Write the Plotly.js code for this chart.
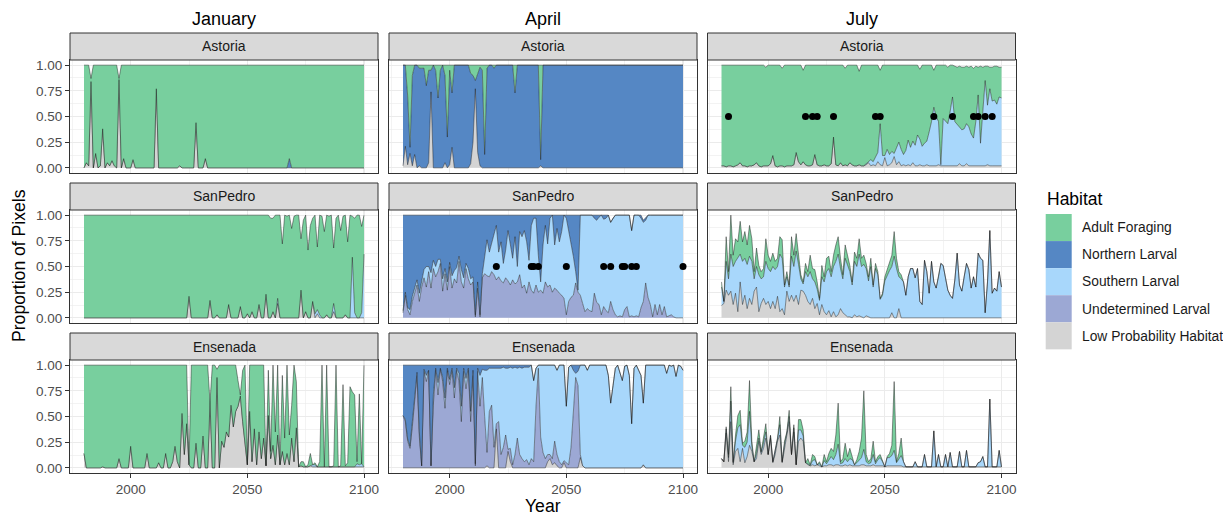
<!DOCTYPE html>
<html><head><meta charset="utf-8">
<script src="https://cdn.plot.ly/plotly-3.0.1.min.js"></script>
<style>html,body{margin:0;padding:0;background:#fff;}#chart{width:1223px;height:515px;}</style>
</head><body><div id="chart"></div>
<script>
const YEARS = [
1980,1981,1982,1983,1984,1985,1986,1987,1988,1989,
1990,1991,1992,1993,1994,1995,1996,1997,1998,1999,
2000,2001,2002,2003,2004,2005,2006,2007,2008,2009,
2010,2011,2012,2013,2014,2015,2016,2017,2018,2019,
2020,2021,2022,2023,2024,2025,2026,2027,2028,2029,
2030,2031,2032,2033,2034,2035,2036,2037,2038,2039,
2040,2041,2042,2043,2044,2045,2046,2047,2048,2049,
2050,2051,2052,2053,2054,2055,2056,2057,2058,2059,
2060,2061,2062,2063,2064,2065,2066,2067,2068,2069,
2070,2071,2072,2073,2074,2075,2076,2077,2078,2079,
2080,2081,2082,2083,2084,2085,2086,2087,2088,2089,
2090,2091,2092,2093,2094,2095,2096,2097,2098,2099,
2100];

const MONTHS = ['January','April','July'];
const SITES = ['Astoria','SanPedro','Ensenada'];
const HAB_LABELS = ['Adult Foraging','Northern Larval','Southern Larval','Undetermined Larval','Low Probability Habitat'];
const Y_TICKS = [0, 0.25, 0.5, 0.75, 1];
const Y_TICK_LABELS = ['0.00','0.25','0.50','0.75','1.00'];
const X_TICKS = [2000, 2050, 2100];
const X_TICK_LABELS = ['2000','2050','2100'];

// ---- January / Astoria
const JAN_AST_LOW = [
0,.05,.02,.84,0,.14,0,.02,.38,0,
.05,.02,.07,.02,0,.86,0,.09,0,0,
0,.08,0,0,0,0,0,0,0,0,
0,.77,0,0,0,0,0,0,0,0,
0,.02,0,0,0,0,0,0,.44,0,
0,0,.09,0,0,0,0,0,0,0,
0,0,0,0,0,0,0,0,0,0,
0,0,0,0,0,0,0,0,0,0,
0,0,0,0,0,0,0,0,0,0,
0,0,0,0,0,0,0,0,0,0,
0,0,0,0,0,0,0,0,0,0,
0,0,0,0,0,0,0,0,0,0,
0];
const JAN_AST_NORTH = [
0,0,0,0,0,0,0,0,0,0,
0,0,0,0,0,0,0,0,0,0,
0,0,0,0,0,0,0,0,0,0,
0,0,0,0,0,0,0,0,0,0,
0,0,0,0,0,0,0,0,0,0,
0,0,0,0,0,0,0,0,0,0,
0,0,0,0,0,0,0,0,0,0,
0,0,0,0,0,0,0,0,0,0,
0,0,0,0,0,0,0,0,.09,0,
0,0,0,0,0,0,0,0,0,0,
0,0,0,0,0,0,0,0,0,0,
0,0,0,0,0,0,0,0,0,0,
0];
const JAN_AST_ADULT = [
1,.95,.98,.03,1,.86,1,.98,.62,1,
.95,.98,.93,.98,1,.01,1,.91,1,1,
1,.92,1,1,1,1,1,1,1,1,
1,.23,1,1,1,1,1,1,1,1,
1,.98,1,1,1,1,1,1,.56,1,
1,1,.91,1,1,1,1,1,1,1,
1,1,1,1,1,1,1,1,1,1,
1,1,1,1,1,1,1,1,1,1,
1,1,1,1,1,1,1,1,.91,1,
1,1,1,1,1,1,1,1,1,1,
1,1,1,1,1,1,1,1,1,1,
1,1,1,1,1,1,1,1,1,1,
1];

// ---- April / Astoria
const APR_AST_LOW = [
.02,.21,.03,.14,.02,.13,0,.02,0,0,
0,.05,.74,0,0,0,0,0,.05,0,
.03,.20,0,0,0,0,0,0,0,.04,
.25,.77,.15,.02,0,0,0,0,0,0,
0,0,0,0,0,0,0,0,0,0,
0,0,0,0,0,0,0,0,0,.02,
0,0,0,0,0,0,0,0,0,0,
0,0,0,0,0,0,0,0,0,0,
0,0,0,0,0,0,0,0,0,0,
0,0,0,0,0,0,0,0,0,0,
0,0,0,0,0,0,0,0,0,0,
0,0,0,0,0,0,0,0,0,0,
0];
const APR_AST_NORTH = [
.98,.79,.67,.06,.88,.87,1,.95,.97,.97,
.80,.90,.21,1,.95,.68,.95,1,.85,.30,
.92,.53,1,1,1,1,1,1,1,.88,
.65,.08,.77,.96,.95,.13,.97,1,1,.97,
1,1,1,1,1,1,1,1,.73,1,
1,1,1,1,1,1,1,1,1,.06,
1,1,1,1,1,1,1,1,1,1,
1,1,1,1,1,1,1,1,1,1,
1,1,1,1,1,1,1,1,1,1,
1,1,1,1,1,1,1,1,1,1,
1,1,1,1,1,1,1,1,1,1,
1,1,1,1,1,1,1,1,1,1,
1];
const APR_AST_ADULT = [
0,0,.30,.80,.10,0,0,.03,.03,.03,
.20,.05,.05,0,.05,.32,.05,0,.10,.70,
.05,.27,0,0,0,0,0,0,0,.08,
.10,.15,.08,.02,.05,.87,.03,0,0,.03,
0,0,0,0,0,0,0,0,.27,0,
0,0,0,0,0,0,0,0,0,.92,
0,0,0,0,0,0,0,0,0,0,
0,0,0,0,0,0,0,0,0,0,
0,0,0,0,0,0,0,0,0,0,
0,0,0,0,0,0,0,0,0,0,
0,0,0,0,0,0,0,0,0,0,
0,0,0,0,0,0,0,0,0,0,
0];

// ---- July / Astoria
const JUL_AST_LOW = [
.02,.02,.01,.02,.02,.01,.02,.03,.05,.02,
.02,.01,.02,.02,.03,.05,.02,.01,.02,.02,
.02,.04,.12,.02,.01,.02,.02,.01,.02,.02,
.02,.03,.15,.06,.03,.06,.03,.02,.02,.03,
.13,.03,.02,.02,.03,.02,.02,.04,.30,.03,
.02,.05,.02,.03,.02,.05,.03,.02,.02,.03,
.02,.02,.03,.05,.02,.03,.02,.06,.03,.02,
.10,.02,.03,.05,.11,.03,.06,.02,.03,.02,
.03,.02,.05,.02,.02,.03,.02,.02,.03,.02,
.02,.02,.02,.03,.02,.02,.02,.02,.02,.02,
.02,.02,.04,.02,.02,.04,.02,.02,.02,.02,
.02,.02,.02,.02,.03,.02,.02,.02,.02,.02,
.02];
const JUL_AST_SOUTH = [
0,0,0,0,0,0,0,0,0,0,
0,0,0,0,0,0,0,0,0,0,
0,0,0,0,0,0,0,0,0,0,
0,0,0,0,0,0,0,0,0,0,
0,0,0,0,0,0,0,0,0,0,
0,0,0,0,0,0,0,0,0,0,
0,0,.01,.01,.06,.03,.08,.09,.40,.10,
.02,.16,.10,.11,.03,.17,.19,.16,.10,.15,
.24,.18,.21,.20,.30,.25,.19,.22,.23,.33,
.43,.57,.48,.42,.01,.46,.43,.41,.53,.67,
.43,.40,.36,.35,.36,.39,.38,.31,.27,.43,
.69,.22,.53,.83,.58,.75,.63,.64,.60,.67,
.66];
const JUL_AST_ADULT = [
.98,.98,.99,.98,.98,.99,.98,.97,.95,.98,
.98,.99,.98,.98,.97,.95,.98,.99,.98,.96,
.98,.96,.88,.98,.99,.98,.95,.99,.98,.98,
.98,.97,.85,.94,.97,.89,.97,.98,.98,.97,
.87,.97,.98,.98,.97,.98,.98,.96,.70,.97,
.98,.95,.98,.94,.98,.95,.97,.98,.98,.91,
.98,.98,.96,.94,.92,.94,.90,.85,.52,.88,
.88,.82,.87,.84,.86,.80,.75,.82,.87,.83,
.73,.80,.74,.78,.68,.68,.79,.76,.74,.65,
.55,.36,.50,.55,.97,.52,.55,.55,.45,.31,
.54,.56,.59,.61,.60,.56,.58,.66,.68,.54,
.27,.75,.43,.14,.38,.21,.33,.33,.37,.29,
.30];
const JUL_AST_DOT_YEARS = [1983,2016,2019,2021,2028,2046,2048,2071,2079,2088,2090,2093,2096];
const JUL_AST_DOT_LEVEL = [.5,.5,.5,.5,.5,.5,.5,.5,.5,.5,.5,.5,.5];

// ---- January / SanPedro
const JAN_SP_LOW = [
0,0,0,0,0,0,0,0,0,0,
0,0,0,0,0,0,0,0,0,0,
0,0,0,0,0,0,0,0,0,0,
0,0,0,0,0,0,0,0,0,0,
0,0,0,0,0,.21,0,0,0,0,
0,0,0,0,.17,0,0,.03,0,0,
0,0,.13,0,0,0,0,.11,0,0,
.04,0,.06,0,0,.13,0,0,.23,0,
0,.06,0,.14,0,0,0,0,0,0,
0,0,0,.27,0,.06,0,0,.16,0,
.04,0,0,0,.03,0,0,.06,0,0,
0,0,.03,0,0,0,0,0,0,0,
0];
const JAN_SP_SOUTH = [
0,0,0,0,0,0,0,0,0,0,
0,0,0,0,0,0,0,0,0,0,
0,0,0,0,0,0,0,0,0,0,
0,0,0,0,0,0,0,0,0,0,
0,0,0,0,0,0,0,0,0,0,
0,0,0,0,0,0,0,0,0,0,
0,0,0,0,0,0,0,0,0,0,
0,0,0,0,0,0,0,0,0,0,
0,0,0,.05,0,0,0,0,0,0,
0,0,0,0,0,0,0,0,0,.04,
.04,.03,0,0,0,0,0,.08,0,0,
0,0,0,0,0,.59,.05,0,0,.05,
.62];
const JAN_SP_ADULT = [
1,1,1,1,1,1,1,1,1,1,
1,1,1,1,1,1,1,1,1,1,
1,1,1,1,1,1,1,1,1,1,
1,1,1,1,1,1,1,1,1,1,
1,1,1,1,1,.79,1,1,1,1,
1,1,1,1,.83,1,1,.97,1,1,
1,1,.87,1,1,1,1,.89,1,1,
.96,1,.94,1,1,.87,1,1,.77,1,
.97,.91,1,.81,1,.72,1,.99,1,.87,
.99,1,1,.50,.95,.94,.66,.90,.81,.96,
.61,.97,.99,.84,.97,.99,1,.54,.97,1,
.85,.99,.97,.74,1,.40,.92,1,1,.84,
.38];

// ---- April / SanPedro
const APR_SP_UND = [
.05,.22,.08,.03,.16,.25,.32,.16,.30,.39,
.30,.45,.29,.48,.40,.45,.53,.26,.43,.27,
.50,.29,.38,.34,.55,.35,.29,.48,.38,.32,
.35,.01,.29,.01,.39,.43,.41,.40,.45,.42,
.37,.40,.36,.34,.39,.36,.32,.37,.33,.35,
.42,.29,.32,.24,.35,.27,.24,.32,.25,.27,
.24,.35,.30,.32,.25,.29,.27,.24,.22,.19,
.03,.16,.20,.22,.34,.25,.22,.14,.06,.09,
.07,.06,.24,.15,.13,.03,.11,.07,.05,.16,
.08,.03,.01,.02,.01,.08,.11,.01,.02,.01,
.02,.01,.10,.16,.34,.20,.13,.01,.13,.03,
.13,.03,.11,.01,.02,.03,.01,0,0,0,
0];
const APR_SP_SOUTH = [
.02,.03,.02,.05,.05,.03,.05,.08,.05,.08,
.20,.05,.15,.08,.10,.12,.04,.12,.05,.08,
.04,.12,.08,.15,.05,.12,.10,.05,.10,.06,
.05,.02,.06,.02,.04,.17,.35,.24,.27,.38,
.53,.24,.38,.19,.27,.49,.38,.21,.46,.15,
.42,.50,.53,.50,.21,.63,.73,.65,.36,.08,
.47,.55,.42,.65,.75,.42,.60,.50,.62,.81,
.94,.69,.52,.38,.11,.02,.78,.86,.94,.91,
.93,.94,.73,.80,.85,.97,.85,.90,.95,.77,
.89,.97,.99,.98,.99,.92,.89,.99,.83,.99,
.98,.99,.87,.77,.61,.80,.87,.99,.87,.97,
.87,.97,.89,.99,.98,.97,.99,1,1,1,
1];
const APR_SP_NORTH = [
.93,.75,.90,.92,.79,.72,.63,.76,.65,.53,
.50,.50,.56,.44,.50,.43,.43,.62,.52,.65,
.46,.59,.54,.51,.40,.53,.61,.47,.52,.62,
.60,.97,.65,.97,.57,.40,.24,.36,.28,.20,
.10,.36,.26,.47,.34,.15,.30,.42,.21,.50,
.16,.21,.15,.26,.44,.10,.03,.03,.39,.65,
.29,.10,.28,.03,0,.29,.13,.26,.16,0,
.03,.15,.28,.40,.55,.73,0,0,0,0,
0,0,.03,.05,.02,0,.04,.03,0,0,
0,0,0,0,0,0,0,0,0,0,
0,0,.03,.02,.03,0,0,0,0,0,
0,0,0,0,0,0,0,0,0,0,
0];
const APR_SP_DOT_YEARS = [2020,2035,2036,2038,2050,2066,2069,2074,2075,2078,2080,2100];
const APR_SP_DOT_LEVEL = [.5,.5,.5,.5,.5,.5,.5,.5,.5,.5,.5,.5];

// ---- July / SanPedro
const JUL_SP_LOW = [
.12,.14,.27,.22,.26,.13,.24,.06,.35,.13,
.22,.09,.19,.13,.26,.30,.06,.14,.19,.13,
.16,.09,.16,.09,.21,.06,.09,.03,.26,.16,
.22,.16,.22,.13,.27,.26,.22,.16,.13,.19,
.09,.14,.03,.13,.06,.03,.07,.01,.06,.01,
.03,.09,.05,.03,.01,.01,0,.03,.01,.02,
.01,0,.02,.01,0,0,0,0,0,0,
0,0,0,.05,0,0,.09,0,0,0,
0,0,0,0,0,0,0,0,0,0,
0,0,0,0,0,0,0,0,0,0,
0,0,0,0,0,0,0,0,0,0,
0,0,0,0,0,0,0,0,0,0,
0];
const JUL_SP_SOUTH = [
.18,.02,.28,.16,.36,.37,.31,.52,.27,.42,
.36,.43,.41,.42,.12,.20,.36,.24,.21,.42,
.32,.36,.34,.38,.29,.56,.49,.27,.14,.14,
.38,.34,.43,.39,.11,.07,.23,.24,.32,.19,
.26,.14,.14,.27,.29,.42,.41,.39,.44,.54,
.59,.39,.33,.55,.51,.44,.32,.52,.49,.60,
.49,.52,.46,.35,.50,.30,.48,.42,.18,.22,
.36,.42,.46,.45,.60,.48,.31,.38,.35,.22,
.40,.48,.48,.39,.48,.16,.13,.56,.45,.24,
.55,.35,.29,.40,.53,.51,.39,.27,.22,.19,
.37,.63,.32,.26,.40,.53,.47,.29,.40,.30,
.63,.58,.56,.05,.35,.85,.24,.29,.26,.45,
.30];
const JUL_SP_ADULT = [
.05,0,.24,.07,.38,.11,.22,.16,.32,.19,
.26,.19,.30,.22,.07,.18,.09,.07,.08,.22,
.13,.10,.13,.08,.08,.17,.18,.02,.05,.02,
.19,.11,.17,.11,.04,.02,.08,.05,.16,.10,
.12,.07,.02,.11,.05,.13,.12,.05,.11,.16,
.17,.10,.04,.13,.09,.06,.03,.09,.08,.15,
.08,.09,.05,.04,.08,.02,.05,.03,.01,.02,
.04,.05,.10,.11,.24,.10,.05,.04,0,0,
0,0,0,0,0,0,0,0,0,0,
0,0,0,0,0,0,0,0,0,0,
0,0,0,0,0,0,0,0,0,0,
0,0,0,0,0,0,0,0,0,0,
0];

// ---- January / Ensenada
const JAN_EN_LOW = [
.14,0,0,0,0,0,0,0,.01,0,
0,0,0,0,0,.09,0,0,0,0,
.21,0,0,0,0,0,0,.14,0,0,
0,0,.05,0,0,.14,0,0,.06,.21,
.06,0,.53,.13,.43,.03,0,0,.24,0,
0,.31,0,0,.64,0,0,.88,0,.26,
.20,.35,.30,.61,.40,.55,.60,.70,.45,.20,
.03,.55,.06,.38,.03,.35,.09,.29,.02,.51,
.09,.22,.03,.32,.03,.16,.03,.14,.03,.29,
.06,.39,.01,.02,.01,.01,.01,.02,.01,.01,
.01,.01,.01,.01,.01,.01,.01,.01,.01,.01,
.01,.01,.01,.01,.01,.01,.01,.01,.01,.01,
.01];
const JAN_EN_SOUTH = [
0,0,0,0,0,0,0,0,0,0,
0,0,0,0,0,0,0,0,0,0,
0,0,0,0,0,0,0,0,0,0,
0,0,0,0,0,0,0,0,0,0,
0,0,0,0,0,0,0,0,0,0,
0,0,0,0,0,0,0,0,0,0,
0,0,0,0,0,0,0,0,0,0,
0,0,0,0,0,0,0,0,0,0,
0,0,0,0,0,0,0,0,0,0,
0,0,0,0,0,0,0,0,.02,.02,
0,0,0,0,0,0,0,0,0,0,
0,0,0,0,0,0,0,.03,.02,.03,
0];
const JAN_EN_ADULT = [
.86,1,1,1,1,1,1,1,.99,1,
1,1,1,1,1,.91,1,1,1,1,
.79,1,1,1,1,1,1,.86,1,1,
1,1,.95,1,1,.86,1,1,.94,.79,
.94,1,.47,.87,.57,0,1,1,.76,1,
1,.69,1,1,0,1,1,.08,1,.74,
.80,.65,.70,.39,.60,.45,.25,.01,.50,.80,
0,.45,.94,.62,.97,.65,.91,.71,0,.44,
.07,.78,.32,.68,0,.74,.26,.86,.29,.32,
.94,.45,0,.04,.05,0,.02,.12,0,.02,
0,.05,.99,0,.99,0,0,.01,.99,0,
.01,.80,.01,.04,.78,.73,.70,.02,.69,0,
.99];

// ---- April / Ensenada
const APR_EN_LOW = [
0,0,0,0,0,0,0,0,0,0,
0,0,0,0,0,0,0,0,0,0,
0,0,0,0,0,0,0,0,0,0,
0,0,0,0,0,0,.02,0,0,0,
.38,0,0,0,0,.16,.06,0,0,0,
0,0,0,0,0,0,0,0,0,0,
0,0,.06,.09,.03,.05,.02,0,0,.05,
0,0,0,0,0,0,.10,.02,0,0,
0,0,0,0,0,0,0,0,0,0,
0,0,0,0,0,0,0,0,0,0,
0,0,0,.03,0,0,0,0,0,0,
0,0,0,0,0,0,0,0,0,0,
0];
const APR_EN_UND = [
.51,.45,.26,.19,.40,.65,.90,.30,.02,.94,
.84,.95,.02,.61,.95,.71,.97,.84,.58,.95,
.81,.95,.68,.95,.84,.45,.94,.77,.95,.45,
.90,.02,.94,.60,.88,.50,.13,.55,.61,.20,
.05,.45,.13,.20,.32,.02,.13,.03,.13,.29,
.13,.09,.06,.08,.03,.09,.06,.60,.97,.30,
.15,.09,.07,.04,.06,.21,.11,.06,.03,.02,
.05,.03,.20,.55,.88,.80,.03,0,0,0,
0,0,0,0,0,0,0,0,0,0,
0,0,0,0,0,0,0,0,0,0,
0,0,0,0,0,0,0,0,0,0,
0,0,0,0,0,0,0,0,0,0,
0];
const APR_EN_SOUTH = [
0,.02,.02,.02,.05,.05,.03,.05,0,.02,
.06,0,0,.10,.02,.12,0,.04,.10,.02,
.05,.02,.10,.02,.08,.15,.03,.10,.02,.10,
.05,.02,.03,.30,.08,.45,.80,.42,.36,.77,
.54,.52,.84,.78,.65,.79,.79,.94,.85,.68,
.85,.88,.92,.90,.95,.91,.79,.37,.03,.70,
.85,.91,.87,.87,.91,.74,.82,.94,.97,.93,
.55,.95,.80,.40,.04,.14,.87,.98,1,.95,
1,1,1,1,1,1,1,1,.90,.63,
.80,.97,1,.93,.85,.99,1,.90,.43,.97,
1,.95,.90,.60,1,1,1,1,1,1,
1,1,1,.92,1,.99,1,.89,1,.99,
.95];
const APR_EN_NORTH = [
.49,.53,.72,.79,.55,.30,.07,.65,.98,.04,
.10,.05,.98,.29,.03,.17,.03,.12,.32,.03,
.14,.03,.22,.03,.08,.40,.03,.13,.03,.45,
.05,.96,.03,.10,.04,.05,.05,.03,.03,.03,
.03,.03,.03,.02,.03,.03,.02,.03,.02,.03,
.02,.03,.02,.02,.02,0,0,0,0,0,
0,0,0,0,0,0,0,0,0,0,
0,0,0,.05,.08,.06,0,0,0,0,
0,0,0,0,0,0,0,0,0,0,
0,0,0,0,0,0,0,0,0,0,
0,0,0,0,0,0,0,0,0,0,
0,0,0,0,0,0,0,0,0,0,
0];

// ---- July / Ensenada
const JUL_EN_LOW = [
.09,.06,.34,.06,.45,.03,.16,.19,.06,.19,
.05,.11,.22,.16,.06,.09,.26,.13,.19,.29,
.13,.29,.05,.13,.26,.32,.05,.19,.32,.45,
.13,.35,.03,.26,.29,.26,.05,.03,.02,.03,
.02,.03,.02,.01,.02,.02,.03,.03,.02,.03,
.03,.02,.02,.03,.02,.03,.02,.02,.02,.02,
.03,.03,.02,.02,.02,.03,.02,.02,.02,.02,
.01,.02,.02,.02,.02,.02,.02,.02,.01,.01,
.01,.01,.01,.01,.01,.01,.01,.01,.01,.01,
.01,.01,.01,.01,.01,.01,.01,.01,.01,.01,
.01,.01,.01,.01,.01,.01,.01,.01,.01,.01,
.01,.01,.01,.01,.01,.01,.01,.01,.01,.01,
.01];
const JUL_EN_SOUTH = [
0,0,.04,.04,.20,.02,.10,.20,.36,.03,
.15,.14,.33,.05,0,.05,.03,.02,.05,.06,
0,.02,.01,.03,.02,.10,.01,.04,.02,.05,
0,.04,0,.11,.08,.05,0,.01,0,.04,
.06,0,.02,0,.05,.02,.05,.08,.06,.10,
.20,.02,.03,.06,.04,.06,.06,.01,.03,.06,
.07,.15,.04,.02,.03,.10,.02,.06,.08,.04,
0,.08,.08,.10,.15,.03,.06,.10,.05,0,
0,0,0,.05,0,0,0,.12,0,0,
0,.35,0,.12,0,0,.12,0,.14,0,
0,0,.15,0,0,.16,0,0,0,0,
.04,.05,.10,0,0,.66,0,0,0,.16,
0];
const JUL_EN_ADULT = [
0,0,.02,.03,.14,.01,.06,.12,.14,.02,
.06,.10,.30,.05,0,.10,.08,.01,.06,.08,
0,.01,0,.03,.01,.08,0,.03,.01,.06,
0,.03,0,.10,.10,.06,0,.05,.01,.06,
.03,0,.02,0,.06,.02,.06,.08,.08,.19,
.40,.02,.04,.15,.05,.10,.03,0,.03,.08,
.19,.57,.07,.02,.04,.13,.02,.03,.03,0,
0,.01,.04,.10,.67,.01,.06,.17,0,0,
0,0,0,0,0,0,0,0,0,0,
0,0,0,0,0,0,0,0,0,0,
0,0,0,0,0,0,0,0,0,0,
0,0,0,0,0,0,0,0,0,0,
0];

// ---------------- build -----------------
const FONT = 'Liberation Sans, Arial, Helvetica, sans-serif';
const W = 1223, H = 515;
const COL_PX = [[70, 378], [389, 697], [707.5, 1015.5]];
const ROW_PX = [[60, 173], [210, 323], [360, 473]];
const STRIP_PX = 27;
const HAB_KEYS = ['adult','north','south','und','low'];
const HAB_COLORS = {adult:'#78CF9E', north:'#5587C4', south:'#A8D7FB', und:'#9CA8D4', low:'#D4D4D4'};
const STACK_ORDER = ['low','und','south','north','adult'];

const PANELS = [
  {r:0,c:0,s:{low:JAN_AST_LOW, north:JAN_AST_NORTH, adult:JAN_AST_ADULT}},
  {r:0,c:1,s:{low:APR_AST_LOW, north:APR_AST_NORTH, adult:APR_AST_ADULT}},
  {r:0,c:2,s:{low:JUL_AST_LOW, south:JUL_AST_SOUTH, adult:JUL_AST_ADULT}, dx:JUL_AST_DOT_YEARS, dy:JUL_AST_DOT_LEVEL},
  {r:1,c:0,s:{low:JAN_SP_LOW, south:JAN_SP_SOUTH, adult:JAN_SP_ADULT}},
  {r:1,c:1,s:{und:APR_SP_UND, south:APR_SP_SOUTH, north:APR_SP_NORTH}, dx:APR_SP_DOT_YEARS, dy:APR_SP_DOT_LEVEL},
  {r:1,c:2,s:{low:JUL_SP_LOW, south:JUL_SP_SOUTH, adult:JUL_SP_ADULT}},
  {r:2,c:0,s:{low:JAN_EN_LOW, south:JAN_EN_SOUTH, adult:JAN_EN_ADULT}},
  {r:2,c:1,s:{low:APR_EN_LOW, und:APR_EN_UND, south:APR_EN_SOUTH, north:APR_EN_NORTH}},
  {r:2,c:2,s:{low:JUL_EN_LOW, south:JUL_EN_SOUTH, adult:JUL_EN_ADULT}}
];

const traces = [];
const layout = {
  width: W, height: H, margin: {l:0, r:0, t:0, b:0},
  paper_bgcolor: 'white', plot_bgcolor: 'white', showlegend: false,
  font: {family: FONT, color: '#000'},
  annotations: [], shapes: []
};
const px = v => v / W, py = v => 1 - v / H;

PANELS.forEach((p, k) => {
  const n = k === 0 ? '' : String(k + 1);
  const xa = 'x' + n, ya = 'y' + n;
  STACK_ORDER.forEach(key => {
    if (!p.s[key]) return;
    traces.push({
      type: 'scatter', mode: 'lines', x: YEARS, y: p.s[key],
      stackgroup: 'g' + k, xaxis: xa, yaxis: ya,
      line: {color: 'rgba(25,25,25,0.85)', width: 0.55, shape: 'linear'},
      fillcolor: HAB_COLORS[key], hoverinfo: 'skip', showlegend: false
    });
  });
  if (p.dx) {
    traces.push({type:'scatter', mode:'markers', x:p.dx, y:p.dy, xaxis:xa, yaxis:ya,
      marker:{color:'#000', size:7}, hoverinfo:'skip', showlegend:false});
  }
  const [x0, x1] = COL_PX[p.c], [y0, y1] = ROW_PX[p.r];
  layout['xaxis' + n] = {
    domain: [px(x0), px(x1)], range: [1974, 2106], anchor: ya,
    tickmode: 'array', tickvals: X_TICKS, ticktext: X_TICK_LABELS,
    showticklabels: p.r === 2, ticks: p.r === 2 ? 'outside' : '', ticklen: 4, tickwidth: 1, tickcolor: '#333333',
    tickfont: {family: FONT, size: 13.5, color: '#4D4D4D'},
    showgrid: true, gridcolor: '#EBEBEB', gridwidth: 1.1,
    minor: {tickmode: 'array', tickvals: [1975, 2025, 2075], showgrid: true, gridcolor: '#EBEBEB', gridwidth: 0.6, ticks: ''},
    showline: true, mirror: true, linecolor: '#333333', linewidth: 1, zeroline: false, fixedrange: true
  };
  layout['yaxis' + n] = {
    domain: [py(y1), py(y0)], range: [-0.05, 1.05], anchor: xa,
    tickmode: 'array', tickvals: Y_TICKS, ticktext: Y_TICK_LABELS,
    showticklabels: p.c === 0, ticks: p.c === 0 ? 'outside' : '', ticklen: 4, tickwidth: 1, tickcolor: '#333333',
    tickfont: {family: FONT, size: 13.5, color: '#4D4D4D'},
    showgrid: true, gridcolor: '#EBEBEB', gridwidth: 1.1,
    minor: {tickmode: 'array', tickvals: [0.125, 0.375, 0.625, 0.875], showgrid: true, gridcolor: '#EBEBEB', gridwidth: 0.6, ticks: ''},
    showline: true, mirror: true, linecolor: '#333333', linewidth: 1, zeroline: false, fixedrange: true
  };
  layout.shapes.push({type:'rect', xref:'paper', yref:'paper', x0:px(x0), x1:px(x1), y0:py(y0), y1:py(y0 - STRIP_PX),
    fillcolor:'#D9D9D9', line:{color:'#333333', width:1}, layer:'above'});
  layout.annotations.push({xref:'paper', yref:'paper', x:px((x0 + x1) / 2), y:py(y0 - STRIP_PX / 2),
    text: SITES[p.r], showarrow:false, xanchor:'center', yanchor:'middle', font:{family:FONT, size:14, color:'#1A1A1A'}});
});

MONTHS.forEach((m, c) => {
  const [x0, x1] = COL_PX[c];
  layout.annotations.push({xref:'paper', yref:'paper', x:px((x0 + x1) / 2), y:py(19), text:m, showarrow:false,
    xanchor:'center', yanchor:'middle', font:{family:FONT, size:18, color:'#000'}});
});
layout.annotations.push({xref:'paper', yref:'paper', x:px(19), y:py(266), text:'Proportion of Pixels', textangle:-90,
  showarrow:false, xanchor:'center', yanchor:'middle', font:{family:FONT, size:17.6, color:'#000'}});
layout.annotations.push({xref:'paper', yref:'paper', x:px(543), y:py(506), text:'Year',
  showarrow:false, xanchor:'center', yanchor:'middle', font:{family:FONT, size:17.6, color:'#000'}});
layout.annotations.push({xref:'paper', yref:'paper', x:px(1045), y:py(199), text:'Habitat',
  showarrow:false, xanchor:'left', yanchor:'middle', font:{family:FONT, size:17.5, color:'#000'}});
HAB_KEYS.forEach((key, i) => {
  const top = 214 + i * 27.07;
  layout.shapes.push({type:'rect', xref:'paper', yref:'paper', x0:px(1045.7), x1:px(1071.7), y0:py(top + 27.07), y1:py(top),
    fillcolor:HAB_COLORS[key], line:{width:0}});
  layout.annotations.push({xref:'paper', yref:'paper', x:px(1080), y:py(top + 13.8), text:HAB_LABELS[i],
    showarrow:false, xanchor:'left', yanchor:'middle', font:{family:FONT, size:13.8, color:'#1A1A1A'}});
});

Plotly.newPlot('chart', traces, layout, {displayModeBar:false, staticPlot:true});
</script>
</body></html>
